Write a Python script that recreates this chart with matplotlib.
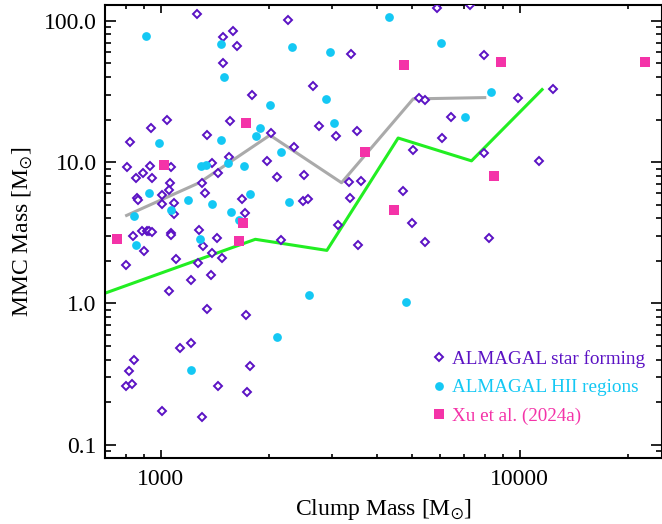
import matplotlib
matplotlib.use("Agg")
import matplotlib.pyplot as plt
from matplotlib.ticker import LogLocator, FixedLocator, FixedFormatter, NullFormatter

plt.rcParams['font.family'] = ['Liberation Serif', 'DejaVu Serif']
plt.rcParams['mathtext.fontset'] = 'stix'

# ALMAGAL star forming clumps (clump mass, MMC mass)
sf_clump = [1259, 2261, 1587, 1491, 1627, 1494, 1795, 1041, 1562, 940, 820, 1346, 2031, 2345,
            1549, 1392, 1972, 804, 934, 1068, 895, 854, 946, 1447, 2102, 1061, 1306, 1053, 1006,
            1326, 859, 863, 1006, 1087, 1687, 1089, 1720, 839, 889, 916, 928, 948, 1068, 1068,
            1281, 1309, 1434, 1387, 1484, 1268, 899, 802, 1105, 1214, 1380, 1053, 2158, 1348,
            1731, 1217, 1134, 841, 816, 800, 831, 1775, 1441, 1735, 1008, 1306, 5864, 7257,
            3379, 2649, 2753, 3075, 3511, 5245, 5429, 6438, 6066, 5028, 2505, 3336, 3603, 2484,
            2570, 3364, 4716, 3108, 5015, 3540, 5450, 7973, 9872, 12408, 7953, 11290, 8213]
sf_mmc = [111, 100.6, 84.1, 76.3, 66.2, 49.9, 29.7, 20.0, 19.4, 17.4, 13.95, 15.5, 16.1, 12.7,
          10.8, 9.84, 10.2, 9.22, 9.32, 9.17, 8.41, 7.70, 7.66, 8.41, 7.79, 7.10, 7.06, 6.30, 5.87,
          6.07, 5.53, 5.41, 5.07, 5.15, 5.50, 4.26, 4.35, 3.01, 3.23, 3.26, 3.23, 3.19, 3.16, 3.06,
          3.28, 2.55, 2.88, 2.29, 2.08, 1.93, 2.35, 1.87, 2.05, 1.47, 1.58, 1.22, 2.83, 0.913,
          0.832, 0.526, 0.483, 0.397, 0.332, 0.260, 0.270, 0.358, 0.260, 0.237, 0.173, 0.157, 122.4, 129,
          57.8, 34.6, 18.1, 15.4, 16.5, 28.6, 27.7, 20.7, 14.7, 12.2, 8.14, 7.18, 7.33, 5.32,
          5.46, 5.53, 6.20, 3.60, 3.72, 2.60, 2.71, 57.4, 28.6, 32.8, 11.6, 10.2, 2.89]

# ALMAGAL HII regions
hii_clump = [908, 1469, 1503, 2011, 1893, 1838, 1472, 989, 2158, 1292, 1335, 1542, 1702, 928,
             1193, 1392, 1768, 2279, 1070, 1569, 1652, 844, 852, 1289, 2111, 1217, 4319, 6015,
             2953, 2320, 2879, 3030, 7015, 8302, 2582, 4817]
hii_mmc = [77.9, 68.7, 39.7, 25.5, 17.4, 15.2, 14.4, 13.6, 11.8, 9.32, 9.52, 9.79, 9.32, 6.00,
           5.35, 5.07, 5.97, 5.20, 4.60, 4.40, 3.92, 4.17, 2.58, 2.84, 0.581, 0.339, 106.2, 69.1,
           59.7, 65.4, 28.0, 18.8, 20.7, 31.1, 1.15, 1.02]

# Xu et al. (2024a)
xu_clump = [757, 1023, 1731, 1698, 1654, 4764, 8867, 22320, 3710, 8480, 4468]
xu_mmc = [2.86, 9.58, 19.0, 3.72, 2.74, 48.3, 51.5, 51.5, 11.8, 8.01, 4.60]

# median curves
gray_clump = [804, 1281, 2015, 3189, 5047, 7988]
gray_mmc = [4.19, 7.14, 15.5, 7.14, 28.0, 28.6]
green_clump = [700, 1835, 2903, 4584, 7336, 11535]
green_mmc = [1.18, 2.84, 2.37, 14.8, 10.2, 32.6]

labels = ['ALMAGAL star forming', 'ALMAGAL HII regions', 'Xu et al. (2024a)']
c_sf = '#5B12C4'
c_hii = '#14C8F4'
c_xu = '#F433A8'

W, H = 662, 524
fig = plt.figure(figsize=(W / 100, H / 100), dpi=100)
ax = fig.add_axes([105 / W, 1 - 458.3 / H, (661.5 - 105) / W, (458.3 - 4.7) / H])

ax.plot(gray_clump, gray_mmc, color='#AAAAAA', lw=2.2, zorder=2)
ax.plot(green_clump, green_mmc, color='#22EE22', lw=2.2, zorder=2)

h1, = ax.plot(sf_clump, sf_mmc, ls='none', marker='D', ms=3.6, mfc='white', mec=c_sf,
              mew=1.4, zorder=3)
h2, = ax.plot(hii_clump, hii_mmc, ls='none', marker='o', ms=6.3, mfc=c_hii, mec=c_hii,
              mew=0, zorder=3)
h3, = ax.plot(xu_clump, xu_mmc, ls='none', marker='s', ms=6.5, mfc=c_xu, mec=c_xu,
              mew=0, zorder=3)

ax.set_xscale('log')
ax.set_yscale('log')
ax.set_xlim(700, 24800)
ax.set_ylim(0.08, 130)

ax.xaxis.set_major_locator(FixedLocator([1000, 10000]))
ax.xaxis.set_major_formatter(FixedFormatter(['1000', '10000']))
ax.xaxis.set_minor_locator(LogLocator(base=10, subs=range(2, 10), numticks=20))
ax.xaxis.set_minor_formatter(NullFormatter())
ax.yaxis.set_major_locator(FixedLocator([0.1, 1, 10, 100]))
ax.yaxis.set_major_formatter(FixedFormatter(['0.1', '1.0', '10.0', '100.0']))
ax.yaxis.set_minor_locator(LogLocator(base=10, subs=range(2, 10), numticks=20))
ax.yaxis.set_minor_formatter(NullFormatter())

ax.tick_params(which='both', direction='in', top=True, right=True, labelsize=17, width=1.2)
ax.tick_params(axis='x', which='major', length=6, pad=8)
ax.tick_params(axis='x', which='minor', length=3)
ax.tick_params(axis='y', which='major', length=8, pad=6)
ax.tick_params(axis='y', which='minor', length=4.3)
for s in ax.spines.values():
    s.set_linewidth(1.5)

ax.set_xlabel(r'Clump Mass [M$_{\odot}$]', fontsize=17, labelpad=5)
ax.set_ylabel(r'MMC Mass [M$_{\odot}$]', fontsize=17, labelpad=6)

leg = ax.legend([h1, h2, h3], labels, loc='upper left',
                bbox_to_anchor=(431 / W, 1 - 350 / H), bbox_transform=fig.transFigure,
                frameon=False, fontsize=13.8, handlelength=0.8, handletextpad=0.3,
                labelspacing=0.57, borderpad=0, borderaxespad=0)
for t, c in zip(leg.get_texts(), [c_sf, c_hii, c_xu]):
    t.set_color(c)

fig.savefig('out.png', dpi=100)
